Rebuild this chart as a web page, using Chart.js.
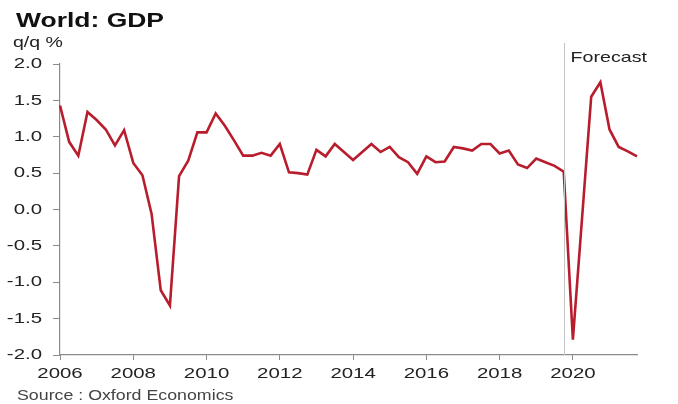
<!DOCTYPE html>
<html>
<head>
<meta charset="utf-8">
<title>World: GDP</title>
<script src="https://cdn.jsdelivr.net/npm/chart.js@4/dist/chart.umd.min.js"></script>
<style>
    html, body { margin: 0; padding: 0; background: #fff; }
    #wrap { position: relative; width: 678px; height: 404px; overflow: hidden; }
    #wrap canvas { position: absolute; left: 0; top: 0; }
    .txt { position: absolute; white-space: nowrap; font-family: "Liberation Sans", Arial, sans-serif; transform-origin: 0 0; }
    #title { left: 16px; top: 9px; font-size: 21px; line-height: 21px; font-weight: bold; color: #111; transform: scaleX(1.26); }
    #unit { left: 13px; top: 34px; font-size: 15px; line-height: 15px; color: #222; transform: scaleX(1.3); }
    #source { left: 17px; top: 388px; font-size: 14px; line-height: 14px; color: #444; transform: scaleX(1.27); }
</style>
</head>
<body>
<div id="wrap">
    <canvas id="chart" width="678" height="404"></canvas>
    <div class="txt" id="title">World: GDP</div>
    <div class="txt" id="unit">q/q %</div>
    <div class="txt" id="source">Source : Oxford Economics</div>
</div>
<script>
(function () {
    "use strict";

    // Trimestres 2006 T1 .. 2021 T4
    var years = [2006, 2007, 2008, 2009, 2010, 2011, 2012, 2013, 2014, 2015, 2016, 2017, 2018, 2019, 2020, 2021];
    var quarters = ["Q1", "Q2", "Q3", "Q4"];
    var tickYears = [2006, 2008, 2010, 2012, 2014, 2016, 2018, 2020];
    var yTicks = [-2.0, -1.5, -1.0, -0.5, 0.0, 0.5, 1.0, 1.5, 2.0];

    // PIB mundial, variação trimestral (%) – histórico até 2019 T4
    var gdpActual = [
        1.43, 0.93, 0.74, 1.34, 1.23, 1.10, 0.88, 1.09,
        0.64, 0.47, -0.06, -1.11, -1.32, 0.46, 0.67, 1.06,
        1.06, 1.32, 1.15, 0.95, 0.74, 0.74, 0.78, 0.74,
        0.90, 0.51, 0.50, 0.48, 0.82, 0.73, 0.90, 0.79,
        0.68, 0.79, 0.90, 0.79, 0.86, 0.72, 0.65, 0.49,
        0.73, 0.65, 0.66, 0.86, 0.84, 0.81, 0.90, 0.90,
        0.77, 0.81, 0.62, 0.57, 0.70, 0.65, 0.60, 0.52
    ];
    // previsão 2020 T1 .. 2021 T4
    var gdpForecast = [-1.79, -0.12, 1.55, 1.75, 1.10, 0.86, 0.80, 0.73];

    var FORECAST_AT = gdpActual.length - 1;
    var RED = "#b81d2d";
    var AXIS = "#8a8a8a";
    var FONT = "Liberation Sans, Arial, sans-serif";
    var STRETCH = 1.36; // fonte “larga” dos rótulos

    var labels = [];
    years.forEach(function (y) {
        quarters.forEach(function (q) { labels.push(y + " " + q); });
    });
    var values = gdpActual.concat(gdpForecast);

    function wideText(ctx, text, x, y, align, sx) {
        ctx.save();
        ctx.translate(x, y);
        ctx.scale(sx, 1);
        ctx.textAlign = align;
        ctx.fillText(text, 0, 0);
        ctx.restore();
    }

    // rótulos dos eixos desenhados esticados na horizontal
    var axisLabels = {
        id: "axisLabels",
        afterDraw: function (chart) {
            var ctx = chart.ctx;
            var xs = chart.scales.x, ys = chart.scales.y;
            ctx.save();
            ctx.fillStyle = "#222";
            ctx.font = "15px " + FONT;
            ctx.textBaseline = "middle";
            ys.ticks.forEach(function (t, i) {
                wideText(ctx, t.label, 42, ys.getPixelForTick(i), "right", STRETCH);
            });
            xs.ticks.forEach(function (t, i) {
                if (t.label === null || t.label === undefined) return;
                wideText(ctx, t.label, xs.getPixelForTick(i), 374, "center", STRETCH);
            });
            ctx.restore();
        }
    };

    // linha vertical + rótulo "Forecast"
    var forecastPlugin = {
        id: "forecast",
        afterDatasetsDraw: function (chart) {
            var ctx = chart.ctx;
            var x = Math.round(chart.scales.x.getPixelForValue(FORECAST_AT)) + 0.5;
            var bottom = chart.chartArea.bottom;
            ctx.save();
            ctx.strokeStyle = "#c4c4c4";
            ctx.lineWidth = 1;
            ctx.beginPath();
            ctx.moveTo(x, 43);
            ctx.lineTo(x, bottom);
            ctx.stroke();
            ctx.fillStyle = "#222";
            ctx.font = "15px " + FONT;
            ctx.textBaseline = "alphabetic";
            wideText(ctx, "Forecast", x + 6, 62, "left", 1.31);
            ctx.restore();
        }
    };

    new Chart(document.getElementById("chart"), {
        type: "line",
        data: {
            labels: labels,
            datasets: [{
                data: values,
                borderColor: RED,
                borderWidth: 2.6,
                pointRadius: 0,
                tension: 0,
                fill: false
            }]
        },
        options: {
            responsive: false,
            animation: false,
            devicePixelRatio: 1,
            layout: { padding: { left: 0, right: 41, top: 64, bottom: 0 } },
            plugins: { legend: { display: false }, tooltip: { enabled: false } },
            scales: {
                x: {
                    type: "category",
                    offset: false,
                    border: { display: true, color: AXIS, width: 1.2 },
                    grid: { display: true, drawOnChartArea: false, drawTicks: true, tickLength: 5, color: AXIS },
                    ticks: {
                        display: false,
                        autoSkip: false,
                        maxRotation: 0,
                        callback: function (v, i) {
                            var parts = labels[i].split(" ");
                            var y = parseInt(parts[0], 10);
                            return (parts[1] === "Q1" && tickYears.indexOf(y) >= 0) ? String(y) : null;
                        }
                    },
                    afterFit: function (s) { s.height = 49; }
                },
                y: {
                    min: yTicks[0],
                    max: yTicks[yTicks.length - 1],
                    border: { display: true, color: AXIS, width: 1.2 },
                    grid: { display: true, drawOnChartArea: false, drawTicks: true, tickLength: 7, color: AXIS },
                    afterBuildTicks: function (s) {
                        s.ticks = yTicks.map(function (v) { return { value: v }; });
                    },
                    ticks: {
                        display: false,
                        callback: function (v) { return Number(v).toFixed(1); }
                    },
                    afterFit: function (s) { s.width = 60; }
                }
            }
        },
        plugins: [axisLabels, forecastPlugin]
    });
})();
</script>
</body>
</html>
